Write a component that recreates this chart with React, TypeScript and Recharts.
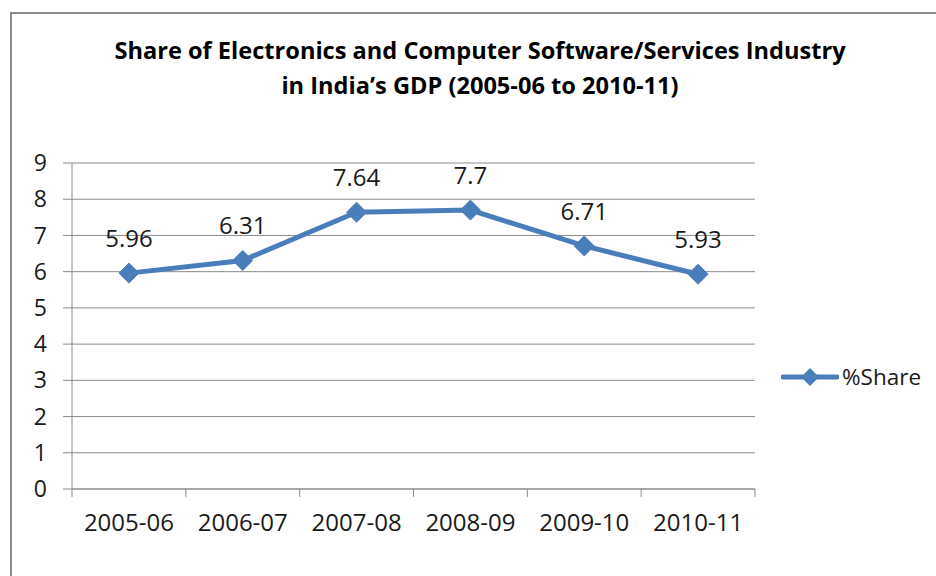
import React from 'react';
import { LineChart, Line, XAxis, YAxis, CartesianGrid, Legend, LabelList } from 'recharts';

// data
const years = ['2005-06', '2006-07', '2007-08', '2008-09', '2009-10', '2010-11'];
const shares = [5.96, 6.31, 7.64, 7.7, 6.71, 5.93];
const yTicks = [0, 1, 2, 3, 4, 5, 6, 7, 8, 9];

const data = years.map((year, i) => ({ year, share: shares[i] }));

const W = 936;
const H = 576;
const PLOT_LEFT = 72;
const PLOT_RIGHT = 755;
const PLOT_TOP = 163;
const PLOT_BOTTOM = 489;
const Y_AXIS_W = 60;
const X_AXIS_H = 50;

const BLUE = '#4A7EBB';
const GRID = '#8c8c8c';
const TEXT = '#1a1a1a';
const FONT = '"Open Sans", sans-serif';

function Diamond(props: any) {
  const { cx, cy } = props;
  if (cx == null || cy == null) return null;
  const r = 10;
  return (
    <polygon
      points={`${cx},${cy - r} ${cx + r},${cy} ${cx},${cy + r} ${cx - r},${cy}`}
      fill={BLUE}
      stroke={BLUE}
      strokeWidth={1}
    />
  );
}

function YearTick(props: any) {
  const { x, payload, index } = props;
  const half = payload.offset || 0;
  return (
    <g>
      {/* tick marks sit on the category boundaries, like Excel */}
      <line x1={x - half} x2={x - half} y1={PLOT_BOTTOM} y2={PLOT_BOTTOM + 8} stroke={GRID} />
      {index === years.length - 1 && (
        <line x1={x + half} x2={x + half} y1={PLOT_BOTTOM} y2={PLOT_BOTTOM + 8} stroke={GRID} />
      )}
      <text x={x} y={PLOT_BOTTOM + 42} textAnchor="middle" fill={TEXT} fontSize={24} fontFamily={FONT}>
        {payload.value}
      </text>
    </g>
  );
}

function LegendContent() {
  return (
    <div style={{ display: 'flex', alignItems: 'center', fontFamily: FONT, fontSize: 22.5, color: TEXT }}>
      <svg width={58} height={24}>
        <line x1={2} x2={56} y1={12} y2={12} stroke={BLUE} strokeWidth={5} strokeLinecap="round" />
        <polygon points="29,3 38,12 29,21 20,12" fill={BLUE} />
      </svg>
      <span style={{ marginLeft: 3 }}>%Share</span>
    </div>
  );
}

export default function App() {
  return (
    <div style={{ position: 'absolute', left: 0, top: 0, width: W, height: H, overflow: 'hidden', background: '#fff' }}>
      {/* chart frame, runs off the right and bottom edges */}
      <div
        style={{
          position: 'absolute',
          left: 10,
          top: 12,
          width: 1000,
          height: 1000,
          border: `2px solid ${GRID}`,
        }}
      />

      {/* Title */}
      <div
        style={{
          position: 'absolute',
          left: 0,
          top: 33,
          width: 960,
          textAlign: 'center',
          fontFamily: FONT,
          fontWeight: 700,
          fontSize: 23.6,
          lineHeight: '35px',
          color: '#000',
        }}
      >
        Share of Electronics and Computer Software/Services Industry
        <br />
        in India’s GDP (2005-06 to 2010-11)
      </div>

      <div style={{ position: 'absolute', left: 0, top: 0 }}>
        <LineChart
          width={W}
          height={H}
          data={data}
          margin={{
            top: PLOT_TOP,
            left: PLOT_LEFT - Y_AXIS_W,
            right: W - PLOT_RIGHT,
            bottom: H - PLOT_BOTTOM - X_AXIS_H,
          }}
        >
          <CartesianGrid vertical={false} stroke={GRID} strokeWidth={1} />
          <XAxis
            dataKey="year"
            scale="band"
            height={X_AXIS_H}
            stroke={GRID}
            tickLine={false}
            tick={<YearTick />}
            interval={0}
          />
          <YAxis
            width={Y_AXIS_W}
            domain={[0, 9]}
            ticks={yTicks}
            interval={0}
            stroke={GRID}
            tickSize={9}
            tickMargin={16}
            tick={{ fill: TEXT, fontSize: 23, fontFamily: FONT }}
          />
          <Legend
            layout="vertical"
            align="center"
            verticalAlign="middle"
            wrapperStyle={{ left: 781, top: 361, width: 155 }}
            content={<LegendContent />}
          />
          <Line
            type="linear"
            dataKey="share"
            name="%Share"
            stroke={BLUE}
            strokeWidth={5}
            dot={<Diamond />}
            activeDot={false}
            isAnimationActive={false}
          >
            <LabelList
              dataKey="share"
              position="top"
              offset={26}
              fill={TEXT}
              fontSize={24}
              fontFamily={FONT}
            />
          </Line>
        </LineChart>
      </div>
    </div>
  );
}
